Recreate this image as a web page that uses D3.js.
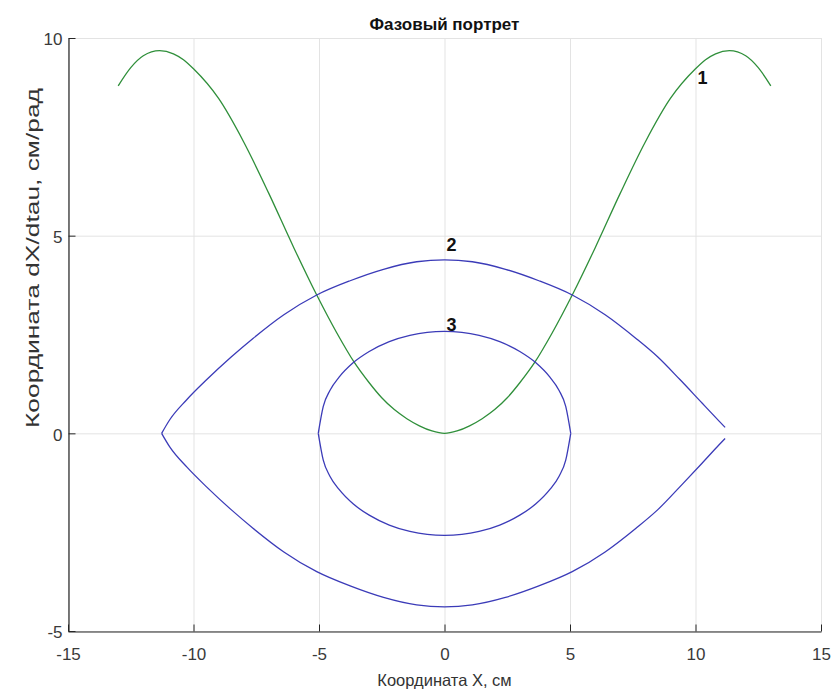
<!DOCTYPE html>
<html>
<head>
<meta charset="utf-8">
<script src="https://cdn.jsdelivr.net/npm/d3@7"></script>
<style>
  body { margin: 0; background: #fff; }
  svg { display: block; font-family: "Liberation Sans", Arial, sans-serif; }
</style>
</head>
<body>
<svg id="chart" width="833" height="693"></svg>
<script>
// ---- Data ----
const xTicks = [-15, -10, -5, 0, 5, 10, 15];
const yTicks = [-5, 0, 5, 10];

// Curve 1 (green)
const curve1X = [-13, -12.5, -12, -11.35, -10.8, -10.4, -10, -9, -8, -7, -6, -5.1, -4.3, -3.6, -3.0, -2.5, -2.0, -1.5, -1.0, -0.5, 0,
                 0.5, 1.0, 1.5, 2.0, 2.5, 3.0, 3.6, 4.3, 5.1, 6, 7, 8, 9, 10, 10.4, 10.8, 11.35, 12, 12.5, 13];
const curve1Y = [8.79, 9.25, 9.55, 9.68, 9.6, 9.45, 9.22, 8.47, 7.37, 6.07, 4.69, 3.51, 2.55, 1.8, 1.28, 0.9, 0.6, 0.37, 0.19, 0.06, 0,
                 0.06, 0.19, 0.37, 0.6, 0.9, 1.28, 1.8, 2.55, 3.51, 4.69, 6.07, 7.37, 8.47, 9.22, 9.45, 9.6, 9.68, 9.55, 9.25, 8.79];

// Curve 2 (blue, outer) upper and lower branches
const curve2UpperX = [-11.27, -10.94, -10.27, -9.47, -8.5, -7.63, -6.4, -5.09, -3.76, -2.43, -1.11, 0,
                      1.11, 2.43, 3.76, 5.09, 6.4, 7.63, 8.5, 9.38, 10.27, 10.94, 11.18];
const curve2UpperY = [0, 0.35, 0.85, 1.36, 1.93, 2.4, 3.0, 3.5, 3.86, 4.15, 4.34, 4.39,
                      4.34, 4.15, 3.86, 3.5, 3.0, 2.4, 1.93, 1.36, 0.76, 0.31, 0.15];
const curve2LowerX = [-11.27, -10.94, -10.27, -9.47, -8.5, -7.63, -6.4, -5.09, -3.76, -2.43, -1.11, 0,
                      1.11, 2.43, 3.76, 5.09, 6.4, 7.63, 8.5, 9.47, 10.27, 10.94, 11.18];
const curve2LowerY = [0, -0.35, -0.85, -1.36, -1.93, -2.4, -3.0, -3.5, -3.86, -4.15, -4.34, -4.39,
                      -4.34, -4.15, -3.86, -3.5, -3.0, -2.4, -1.93, -1.29, -0.75, -0.29, -0.13];

// Curve 3 (blue, inner) upper and lower branches
const curve3UpperX = [-5.03, -4.83, -4.56, -4.2, -3.63, -3.0, -2.2, -1.38, 0, 1.38, 2.2, 3.0, 3.63, 4.2, 4.56, 4.83, 5.03];
const curve3UpperY = [0, 0.68, 1.09, 1.42, 1.79, 2.07, 2.32, 2.48, 2.58, 2.48, 2.32, 2.07, 1.79, 1.42, 1.09, 0.68, 0];
const curve3LowerX = [-5.03, -4.83, -4.56, -4.2, -3.63, -3.0, -2.2, -1.38, 0, 1.38, 2.2, 3.0, 3.63, 4.2, 4.56, 4.83, 5.03];
const curve3LowerY = [0, -0.68, -1.09, -1.42, -1.79, -2.07, -2.32, -2.48, -2.58, -2.48, -2.32, -2.07, -1.79, -1.42, -1.09, -0.68, 0];

const labelTexts = ["1", "2", "3"];
const labelX = [10, 0, 0];
const labelY = [9, 4.78, 2.75];

const titleText = "Фазовый портрет";
const xLabelText = "Координата X, см";
const yLabelText = "Координата dX/dtau, см/рад";

(function () {
const svg = d3.select("#chart");
const mLeft = 68, mRight = 821, mTop = 38, mBottom = 631;
const x = d3.scaleLinear().domain([-15, 15]).range([mLeft, mRight]);
const y = d3.scaleLinear().domain([-5, 10]).range([mBottom, mTop]);

const axisColor = "#262626";
const gridColor = "#e3e3e3";
const font = "Liberation Sans, Arial, sans-serif";

// Grid
const grid = svg.append("g");
grid.selectAll("line.gx").data(xTicks).join("line")
  .attr("x1", d => x(d) + 0.5).attr("x2", d => x(d) + 0.5)
  .attr("y1", mTop).attr("y2", mBottom)
  .attr("stroke", gridColor).attr("stroke-width", 1);
grid.selectAll("line.gy").data(yTicks).join("line")
  .attr("y1", d => y(d) + 0.5).attr("y2", d => y(d) + 0.5)
  .attr("x1", mLeft).attr("x2", mRight)
  .attr("stroke", gridColor).attr("stroke-width", 1);

// Axes
const fmt = d => String(d);
const xAxis = d3.axisBottom(x).tickValues(xTicks).tickFormat(fmt).tickSizeInner(-7).tickSizeOuter(0).tickPadding(16);
const yAxis = d3.axisLeft(y).tickValues(yTicks).tickFormat(fmt).tickSizeInner(-7).tickSizeOuter(0).tickPadding(6);

const gx = svg.append("g").attr("transform", `translate(0,${mBottom + 0.5})`).call(xAxis);
const gy = svg.append("g").attr("transform", `translate(${mLeft + 0.5},0)`).call(yAxis);
[gx, gy].forEach(g => {
  g.select(".domain").attr("stroke", axisColor).attr("stroke-width", 1.2);
  g.selectAll(".tick line").attr("stroke", axisColor);
  g.selectAll(".tick text").attr("fill", "#3a3a3a").attr("font-size", 17)
    .attr("font-family", font);
});
gy.selectAll(".tick text").attr("dy", "0.4em");

// Curves
const line = d3.line().x(d => x(d[0])).y(d => y(d[1])).curve(d3.curveMonotoneX);
const zip = (a, b) => a.map((v, i) => [v, b[i]]);

const green = "#2f8f3a";
const blue = "#3b3bb8";

const curves = [
  { pts: zip(curve1X, curve1Y), color: green },
  { pts: zip(curve2UpperX, curve2UpperY), color: blue },
  { pts: zip(curve2LowerX, curve2LowerY), color: blue },
  { pts: zip(curve3UpperX, curve3UpperY), color: blue },
  { pts: zip(curve3LowerX, curve3LowerY), color: blue },
];
svg.append("g").selectAll("path").data(curves).join("path")
  .attr("d", d => line(d.pts))
  .attr("fill", "none")
  .attr("stroke", d => d.color)
  .attr("stroke-width", 1.3);

// Curve labels
svg.append("g").selectAll("text").data(labelTexts).join("text")
  .attr("x", (d, i) => x(labelX[i]) + 2)
  .attr("y", (d, i) => y(labelY[i]))
  .attr("dy", "0.36em")
  .attr("font-size", 18)
  .attr("font-weight", "bold")
  .attr("fill", "#111")
  .text(d => d);

// Title and axis labels
svg.append("text")
  .attr("x", (mLeft + mRight) / 2).attr("y", 30)
  .attr("text-anchor", "middle")
  .attr("font-size", 17).attr("font-weight", "bold").attr("fill", "#111")
  .text(titleText);

svg.append("text")
  .attr("x", (mLeft + mRight) / 2).attr("y", 686)
  .attr("text-anchor", "middle")
  .attr("font-size", 16.5).attr("fill", "#333")
  .text(xLabelText);

svg.append("text")
  .attr("transform", `translate(39,258) rotate(-90)`)
  .attr("text-anchor", "middle")
  .attr("font-size", 19).attr("fill", "#333")
  .attr("textLength", 340).attr("lengthAdjust", "spacingAndGlyphs")
  .text(yLabelText);
})();
</script>
</body>
</html>
